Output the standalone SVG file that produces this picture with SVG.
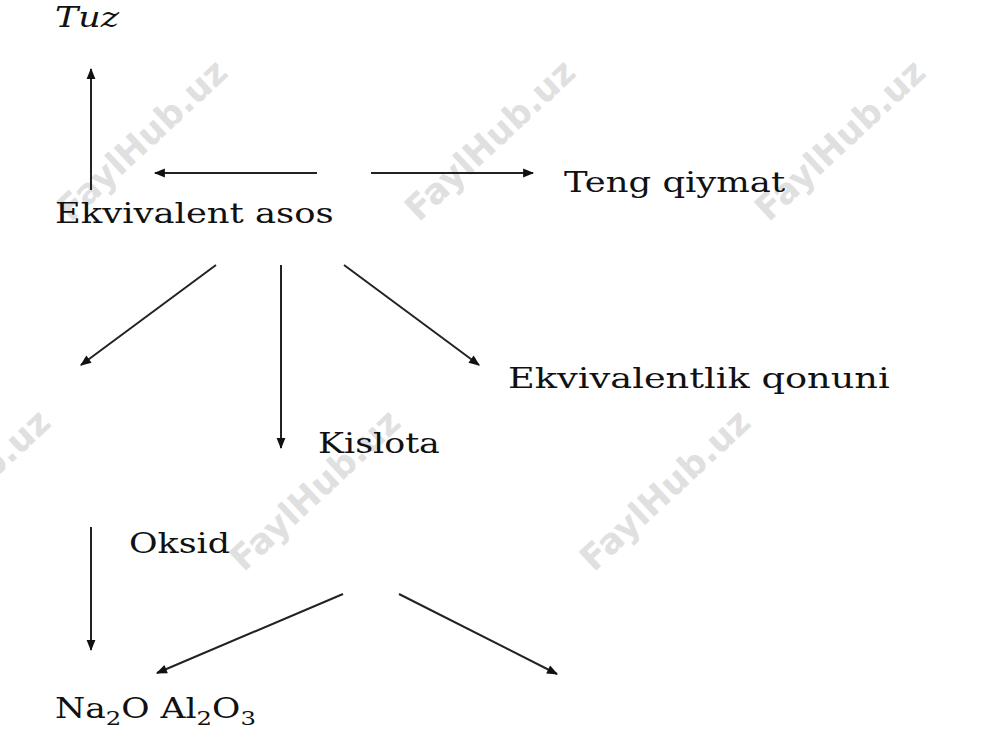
<svg xmlns="http://www.w3.org/2000/svg" width="1000" height="750" viewBox="0 0 1000 750">
<style>
.t{font-family:"DejaVu Serif","Liberation Serif",serif;font-size:27px;fill:#111}
.w{font-family:"DejaVu Sans","Liberation Sans",sans-serif;font-size:35px;font-weight:bold;fill:#e0e0e0;text-anchor:middle}
.c{stroke:#222;stroke-width:2;fill:none;marker-end:url(#ah)}
</style>
<defs>
<marker id="ah" viewBox="0 0 10 10" refX="9" refY="5" markerWidth="12" markerHeight="11" markerUnits="userSpaceOnUse" orient="auto">
<path d="M0,1 L10,5 L0,9 Z" fill="#111"/>
</marker>
</defs>
<rect width="1000" height="750" fill="#fff"/>
<g id="watermarks">
<text class="w" transform="translate(142,140) rotate(-43)" dy="12">FaylHub.uz</text>
<text class="w" transform="translate(490,140) rotate(-43)" dy="12">FaylHub.uz</text>
<text class="w" transform="translate(840,140) rotate(-43)" dy="12">FaylHub.uz</text>
<text class="w" transform="translate(-35,490) rotate(-43)" dy="12">FaylHub.uz</text>
<text class="w" transform="translate(315,490) rotate(-43)" dy="12">FaylHub.uz</text>
<text class="w" transform="translate(665,490) rotate(-43)" dy="12">FaylHub.uz</text>
</g>
<g id="connectors">
<line class="c" x1="91" y1="190" x2="91" y2="69"/>
<line class="c" x1="317" y1="173" x2="155" y2="173"/>
<line class="c" x1="371" y1="173" x2="533" y2="173"/>
<line class="c" x1="216" y1="265" x2="81" y2="365"/>
<line class="c" x1="281" y1="265" x2="281" y2="448"/>
<line class="c" x1="344" y1="265" x2="479" y2="365"/>
<line class="c" x1="91" y1="527" x2="91" y2="650"/>
<line class="c" x1="343" y1="594" x2="157" y2="673"/>
<line class="c" x1="399" y1="594" x2="557" y2="674"/>
</g>
<g id="tuz"><text class="t" transform="translate(55,27) scale(1.29,1)" font-style="italic">Tuz</text></g>
<g id="ekvivalent-asos"><text class="t" transform="translate(55,223) scale(1.31,1)">Ekvivalent asos</text></g>
<g id="teng-qiymat"><text class="t" transform="translate(564,192) scale(1.31,1)">Teng qiymat</text></g>
<g id="ekvivalentlik-qonuni"><text class="t" transform="translate(508,388) scale(1.36,1)">Ekvivalentlik qonuni</text></g>
<g id="kislota"><text class="t" transform="translate(318,453) scale(1.29,1)">Kislota</text></g>
<g id="oksid"><text class="t" transform="translate(129,553) scale(1.29,1)">Oksid</text></g>
<g id="na2o-al2o3"><text class="t" transform="translate(55,718) scale(1.28,1)">Na<tspan font-size="19" dy="7">2</tspan><tspan dy="-7">O Al</tspan><tspan font-size="19" dy="7">2</tspan><tspan dy="-7">O</tspan><tspan font-size="19" dy="7">3</tspan></text></g>
</svg>
